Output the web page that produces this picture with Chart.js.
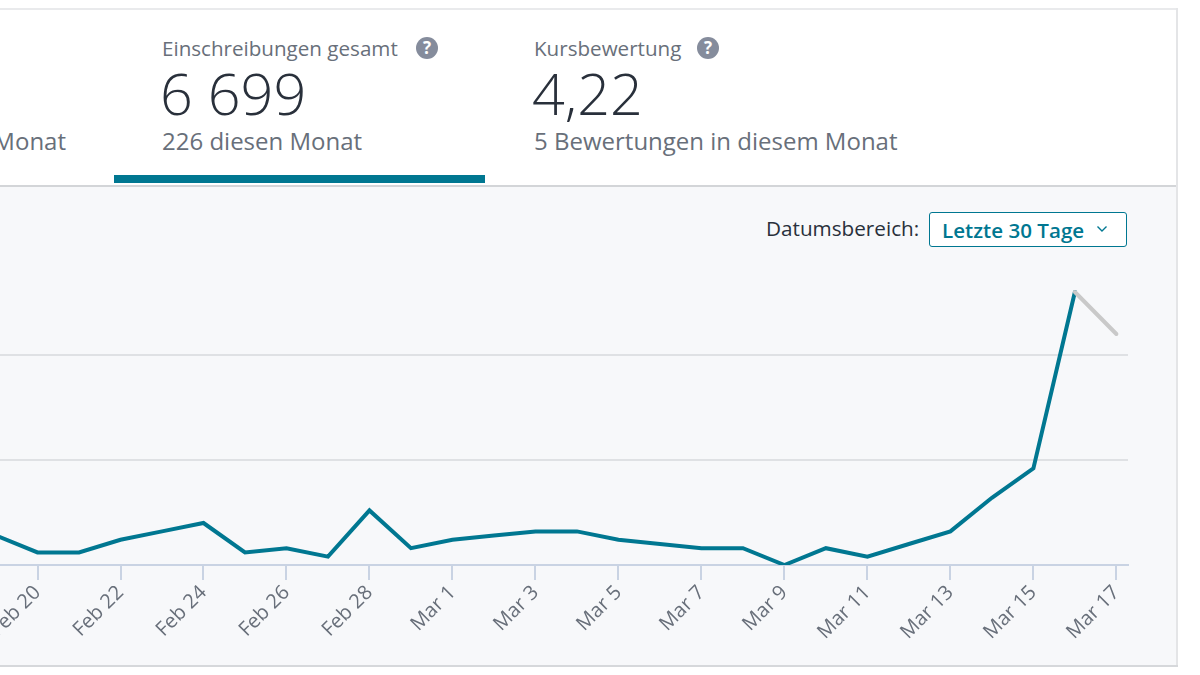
<!DOCTYPE html>
<html>
<head>
<meta charset="utf-8">
<script src="https://cdn.jsdelivr.net/npm/chart.js@4.4.1/dist/chart.umd.min.js"></script>
<style>
  html, body { margin: 0; padding: 0; }
  body { width: 1200px; height: 675px; overflow: hidden; background: #fff; position: relative; font-family: "Open Sans", sans-serif; }
  .abs { position: absolute; }
  .t { position: absolute; line-height: 1; white-space: nowrap; }
  .lbl { font-size: 20.6px; color: #686f7a; }
  .big { font-size: 57.5px; font-weight: 300; color: #29303b; }
  .sub { font-size: 24px; color: #686f7a; }
  .q { position: absolute; width: 22px; height: 22px; border-radius: 50%; background: #858c9c; color: #fff; font-weight: 700; font-size: 17px; line-height: 22px; text-align: center; font-family: "Open Sans", sans-serif; }
  #dd { position: absolute; left: 929px; top: 212px; width: 196px; height: 33px; border: 1.5px solid #007791; border-radius: 3px; background: #fff; box-sizing: content-box; }
</style>
</head>
<body>
  <!-- card frame -->
  <div class="abs" style="left:0;top:8px;width:1178px;height:2px;background:#e9eaec"></div>
  <div class="abs" style="left:1176px;top:8px;width:2px;height:659px;background:#e4e5e7"></div>
  <div class="abs" style="left:0;top:187px;width:1176px;height:478px;background:#f7f8fa"></div>
  <div class="abs" style="left:0;top:185px;width:1176px;height:2px;background:#d3d5d8"></div>
  <div class="abs" style="left:0;top:665px;width:1178px;height:2px;background:#d6d8db"></div>

  <!-- tabs -->
  <div class="t sub" style="right:1134px;top:129px;">4 233 in diesem Monat</div>

  <div class="t lbl" style="left:162px;top:37.5px;">Einschreibungen gesamt</div>
  <div class="q" style="left:416px;top:37px;">?</div>
  <div class="t big" style="left:160px;top:65px;">6 699</div>
  <div class="t sub" style="left:162px;top:129px;">226 diesen Monat</div>
  <div class="abs" style="left:114px;top:175px;width:371px;height:8px;background:#007791"></div>

  <div class="t lbl" style="left:534px;top:37.5px;">Kursbewertung</div>
  <div class="q" style="left:697px;top:37px;">?</div>
  <div class="t big" style="left:532px;top:65px;">4,22</div>
  <div class="t sub" style="left:534px;top:129px;">5 Bewertungen in diesem Monat</div>

  <!-- date range control -->
  <div class="t" style="left:766px;top:218px;font-size:20.7px;color:#29303b;">Datumsbereich:</div>
  <div id="dd">
    <div class="t" style="left:12px;top:6.5px;font-size:20.6px;font-weight:600;color:#007791;">Letzte 30 Tage</div>
    <svg class="abs" style="left:166px;top:12px" width="12" height="8" viewBox="0 0 12 8">
      <polyline points="1.5,1.5 6,6 10.5,1.5" fill="none" stroke="#007791" stroke-width="1.4"/>
    </svg>
  </div>

  <!-- chart -->
  <div class="abs" style="left:0;top:240px;width:1176px;height:425px;">
    <canvas id="c"></canvas>
  </div>

<script>
// Daily enrollments, Feb 19 (partly off-screen) to Mar 17
const dates = ['Feb 19','Feb 20','Feb 21','Feb 22','Feb 23','Feb 24','Feb 25','Feb 26','Feb 27','Feb 28','Feb 29',
               'Mar 1','Mar 2','Mar 3','Mar 4','Mar 5','Mar 6','Mar 7','Mar 8','Mar 9','Mar 10','Mar 11','Mar 12',
               'Mar 13','Mar 14','Mar 15','Mar 16','Mar 17'];
const enrollments = [7, 3, 3, 6, 8, 10, 3, 4, 2, 13, 4,
                     6, 7, 8, 8, 6, 5, 4, 4, 0, 4, 2, 5,
                     8, 16, 23, 65, 55];
// indices of labelled ticks (every second day)
const tickIndices = [1, 3, 5, 7, 9, 11, 13, 15, 17, 19, 21, 23, 25, 27];
const yGridValues = [25, 50];

const TEAL = '#007791';
const GREY = '#c9c9c9';

const points = enrollments.map((v, i) => ({ x: i, y: v }));

new Chart(document.getElementById('c'), {
  type: 'line',
  data: {
    datasets: [{
      data: points,
      borderColor: TEAL,
      borderWidth: 4,
      pointRadius: 0,
      tension: 0,
      borderCapStyle: 'round',
      borderJoinStyle: 'miter',
      fill: false,
      segment: {
        borderColor: ctx => ctx.p1DataIndex === enrollments.length - 1 ? GREY : TEAL
      }
    }]
  },
  options: {
    responsive: true,
    maintainAspectRatio: false,
    animation: false,
    events: [],
    layout: { padding: { top: 10, right: 48, left: 0, bottom: 0 } },
    plugins: { legend: { display: false }, tooltip: { enabled: false } },
    scales: {
      x: {
        type: 'linear',
        min: 0.096,
        max: 27.28,
        afterBuildTicks: s => { s.ticks = tickIndices.map(v => ({ value: v })); },
        afterFit: s => { s.height = 100; s.paddingLeft = 0; s.paddingRight = 0; },
        ticks: {
          autoSkip: false,
          minRotation: 45,
          maxRotation: 45,
          padding: 1,
          color: '#686f7a',
          font: { family: 'Open Sans', size: 20 },
          callback: v => dates[v]
        },
        grid: { drawOnChartArea: false, drawTicks: true, tickLength: 15, color: '#c9d3e3', lineWidth: 2 },
        border: { display: true, color: '#c9d3e3', width: 2 }
      },
      y: {
        min: 0,
        max: 75,
        afterBuildTicks: s => { s.ticks = [0].concat(yGridValues).map(v => ({ value: v })); },
        afterFit: s => { s.width = 0; },
        ticks: { display: false },
        grid: {
          drawTicks: false,
          lineWidth: 2,
          color: c => yGridValues.includes(c.tick.value) ? '#dfe1e4' : 'rgba(0,0,0,0)'
        },
        border: { display: false }
      }
    }
  }
});
</script>
</body>
</html>
